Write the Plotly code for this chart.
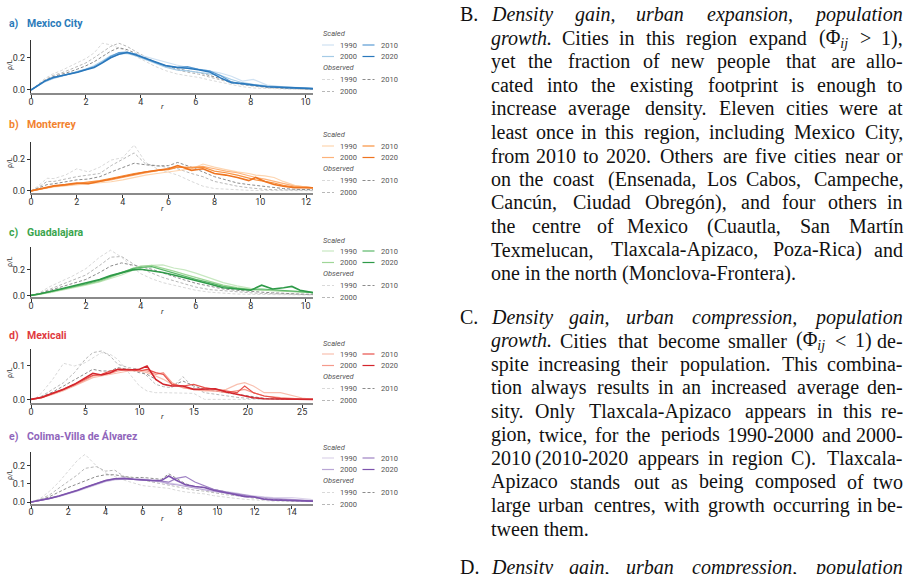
import plotly.graph_objects as go

W, H = 913, 574

SCALED_YEARS = ["1990", "2000", "2010", "2020"]
OBSERVED_YEARS = ["1990", "2000", "2010"]

# a) Mexico City
mexico_r = [0, 0.2, 0.5, 0.8, 1.1, 1.4, 1.7, 2.0, 2.3, 2.6, 2.9, 3.2, 3.5, 3.8, 4.1, 4.5, 4.9,
            5.3, 5.7, 6.1, 6.5, 6.9, 7.3, 7.7, 8.1, 8.6, 9.2, 9.8, 10.3]
mexico_s1990 = [0, 0.02, 0.05, 0.07, 0.083, 0.097, 0.112, 0.128, 0.145, 0.17, 0.2, 0.22, 0.228, 0.224, 0.21,
                0.19, 0.172, 0.155, 0.14, 0.13, 0.118, 0.105, 0.085, 0.055, 0.065, 0.03, 0.02, 0.015, 0.01]
mexico_s2000 = [0, 0.02, 0.052, 0.072, 0.085, 0.1, 0.115, 0.13, 0.15, 0.18, 0.212, 0.228, 0.226, 0.212, 0.195,
                0.168, 0.142, 0.125, 0.118, 0.11, 0.1, 0.09, 0.065, 0.045, 0.035, 0.025, 0.018, 0.012, 0.008]
mexico_s2010 = [0, 0.02, 0.055, 0.075, 0.087, 0.1, 0.112, 0.128, 0.143, 0.172, 0.208, 0.232, 0.235, 0.222, 0.2,
                0.172, 0.15, 0.14, 0.145, 0.128, 0.118, 0.09, 0.05, 0.036, 0.028, 0.02, 0.015, 0.012, 0.008]
mexico_s2020 = [0, 0.02, 0.055, 0.077, 0.088, 0.098, 0.11, 0.125, 0.14, 0.168, 0.2, 0.222, 0.232, 0.218, 0.2,
                0.176, 0.152, 0.14, 0.135, 0.125, 0.112, 0.075, 0.045, 0.04, 0.03, 0.02, 0.016, 0.012, 0.008]
mexico_o1990 = [0, 0.03, 0.07, 0.1, 0.12, 0.145, 0.17, 0.195, 0.23, 0.29, 0.28, 0.262, 0.24, 0.21, 0.185,
                0.148, 0.12, 0.1, 0.088, 0.078, 0.062, 0.048, 0.033, 0.02, 0.012, 0.008, 0.005, 0.003, 0.002]
mexico_o2000 = [0, 0.025, 0.062, 0.09, 0.105, 0.125, 0.145, 0.168, 0.2, 0.235, 0.27, 0.29, 0.27, 0.24, 0.21,
                0.175, 0.145, 0.125, 0.11, 0.098, 0.08, 0.062, 0.045, 0.032, 0.022, 0.014, 0.009, 0.006, 0.004]
mexico_o2010 = [0, 0.022, 0.058, 0.082, 0.095, 0.112, 0.13, 0.15, 0.175, 0.205, 0.24, 0.262, 0.25, 0.228, 0.205,
                0.175, 0.15, 0.132, 0.12, 0.108, 0.09, 0.068, 0.05, 0.036, 0.026, 0.018, 0.012, 0.008, 0.005]

# b) Monterrey
monterrey_r = [0, 0.3, 0.7, 1.0, 1.5, 2.0, 2.5, 3.0, 3.5, 4.0, 4.5, 5.0, 5.5, 6.0, 6.4, 7.0, 7.5, 8.0,
               8.5, 9.0, 9.5, 9.8, 10.2, 10.6, 11.0, 11.5, 12.0, 12.3]
monterrey_s1990 = [0, 0.006, 0.018, 0.025, 0.032, 0.04, 0.045, 0.05, 0.058, 0.07, 0.085, 0.1, 0.11, 0.12,
                   0.125, 0.14, 0.17, 0.15, 0.135, 0.12, 0.11, 0.1, 0.095, 0.085, 0.06, 0.035, 0.025, 0.02]
monterrey_s2000 = [0, 0.008, 0.02, 0.028, 0.035, 0.045, 0.052, 0.06, 0.07, 0.085, 0.1, 0.115, 0.128, 0.14,
                   0.15, 0.15, 0.155, 0.14, 0.125, 0.115, 0.095, 0.085, 0.075, 0.06, 0.045, 0.03, 0.025, 0.02]
monterrey_s2010 = [0, 0.01, 0.024, 0.03, 0.038, 0.048, 0.055, 0.065, 0.08, 0.095, 0.11, 0.12, 0.13, 0.135,
                   0.15, 0.145, 0.15, 0.125, 0.115, 0.1, 0.08, 0.07, 0.06, 0.05, 0.035, 0.025, 0.02, 0.018]
monterrey_s2020 = [0, 0.01, 0.025, 0.032, 0.04, 0.05, 0.045, 0.06, 0.075, 0.09, 0.105, 0.12, 0.13, 0.14,
                   0.16, 0.13, 0.14, 0.11, 0.1, 0.085, 0.065, 0.085, 0.06, 0.04, 0.03, 0.02, 0.022, 0.02]
monterrey_o1990 = [0, 0.03, 0.08, 0.078, 0.1, 0.14, 0.12, 0.15, 0.195, 0.21, 0.29, 0.18, 0.14, 0.12, 0.1,
                   0.06, 0.03, 0.015, 0.01, 0.006, 0.004, 0.003, 0.002, 0.002, 0.001, 0.001, 0.001, 0.001]
monterrey_o2000 = [0, 0.02, 0.06, 0.06, 0.075, 0.09, 0.1, 0.11, 0.16, 0.2, 0.24, 0.17, 0.16, 0.15, 0.14,
                   0.11, 0.09, 0.06, 0.045, 0.03, 0.02, 0.015, 0.01, 0.008, 0.006, 0.005, 0.004, 0.004]
monterrey_o2010 = [0, 0.015, 0.04, 0.045, 0.058, 0.07, 0.075, 0.09, 0.12, 0.15, 0.175, 0.165, 0.158, 0.16,
                   0.18, 0.15, 0.12, 0.09, 0.07, 0.05, 0.04, 0.035, 0.03, 0.02, 0.015, 0.01, 0.008, 0.008]

# c) Guadalajara
guadalajara_r = [0, 0.3, 0.7, 1.0, 1.5, 2.0, 2.5, 2.9, 3.3, 3.7, 4.0, 4.4, 4.8, 5.2, 5.6, 6.0, 6.5,
                 7.0, 7.5, 8.0, 8.4, 8.8, 9.2, 9.5, 9.8, 10.3]
guadalajara_s1990 = [0, 0.007, 0.022, 0.035, 0.055, 0.08, 0.105, 0.13, 0.16, 0.195, 0.215, 0.235, 0.24,
                     0.215, 0.2, 0.175, 0.14, 0.1, 0.075, 0.055, 0.045, 0.04, 0.035, 0.03, 0.028, 0.025]
guadalajara_s2000 = [0, 0.008, 0.025, 0.038, 0.06, 0.085, 0.11, 0.14, 0.175, 0.21, 0.23, 0.235, 0.215,
                     0.19, 0.165, 0.14, 0.11, 0.08, 0.06, 0.045, 0.04, 0.035, 0.03, 0.028, 0.025, 0.02]
guadalajara_s2010 = [0, 0.01, 0.028, 0.042, 0.066, 0.09, 0.12, 0.15, 0.18, 0.21, 0.22, 0.225, 0.2,
                     0.175, 0.15, 0.125, 0.1, 0.07, 0.055, 0.045, 0.05, 0.045, 0.04, 0.035, 0.03, 0.02]
guadalajara_s2020 = [0, 0.01, 0.03, 0.045, 0.07, 0.095, 0.125, 0.155, 0.18, 0.2, 0.205, 0.195, 0.18,
                     0.16, 0.14, 0.12, 0.09, 0.06, 0.05, 0.04, 0.08, 0.05, 0.06, 0.07, 0.04, 0.02]
guadalajara_o1990 = [0, 0.02, 0.07, 0.1, 0.15, 0.21, 0.3, 0.355, 0.3, 0.22, 0.17, 0.13, 0.1, 0.08,
                     0.06, 0.04, 0.025, 0.015, 0.01, 0.008, 0.006, 0.005, 0.004, 0.003, 0.003, 0.002]
guadalajara_o2000 = [0, 0.015, 0.05, 0.075, 0.115, 0.16, 0.235, 0.3, 0.305, 0.25, 0.21, 0.175, 0.14,
                     0.115, 0.09, 0.065, 0.045, 0.035, 0.025, 0.02, 0.015, 0.012, 0.01, 0.008, 0.007, 0.005]
guadalajara_o2010 = [0, 0.012, 0.04, 0.06, 0.09, 0.125, 0.18, 0.23, 0.255, 0.24, 0.225, 0.205, 0.175,
                     0.15, 0.12, 0.095, 0.07, 0.05, 0.04, 0.03, 0.025, 0.02, 0.015, 0.012, 0.01, 0.008]

# d) Mexicali
mexicali_r = [0, 0.5, 1, 2, 3, 4, 5, 5.7, 6.5, 7.3, 8, 9, 10, 10.7, 11.5, 12.2, 13, 14, 15, 16, 17,
              18, 19, 19.7, 20.5, 21.5, 23, 24, 25, 26]
mexicali_s1990 = [0, 0.002, 0.005, 0.015, 0.026, 0.04, 0.055, 0.065, 0.07, 0.075, 0.08, 0.085, 0.085, 0.08,
                  0.07, 0.06, 0.045, 0.035, 0.03, 0.025, 0.025, 0.03, 0.045, 0.05, 0.04, 0.02, 0.02, 0.012, 0.004, 0]
mexicali_s2000 = [0, 0.002, 0.005, 0.016, 0.028, 0.042, 0.058, 0.07, 0.073, 0.078, 0.085, 0.09, 0.088, 0.085,
                  0.075, 0.08, 0.05, 0.035, 0.03, 0.028, 0.025, 0.02, 0.025, 0.03, 0.02, 0.01, 0.005, 0.002, 0.001, 0]
mexicali_s2010 = [0, 0.002, 0.006, 0.018, 0.03, 0.045, 0.062, 0.072, 0.075, 0.085, 0.09, 0.09, 0.085, 0.09,
                  0.08, 0.075, 0.045, 0.04, 0.045, 0.035, 0.03, 0.025, 0.02, 0.04, 0.02, 0.01, 0.003, 0.001, 0, 0]
mexicali_s2020 = [0, 0.002, 0.006, 0.018, 0.03, 0.045, 0.065, 0.078, 0.073, 0.08, 0.09, 0.088, 0.09, 0.1,
                  0.06, 0.045, 0.04, 0.04, 0.03, 0.03, 0.032, 0.022, 0.015, 0.01, 0.005, 0.002, 0.001, 0, 0, 0]
mexicali_o1990 = [0, 0.005, 0.02, 0.06, 0.108, 0.1, 0.11, 0.125, 0.14, 0.135, 0.12, 0.08, 0.04, 0.025,
                  0.02, 0.02, 0.02, 0.02, 0.018, 0, 0, 0, 0, 0, 0, 0, 0, 0, 0, 0]
mexicali_o2000 = [0, 0.003, 0.01, 0.03, 0.05, 0.08, 0.12, 0.14, 0.145, 0.13, 0.105, 0.095, 0.09, 0.07,
                  0.045, 0.038, 0.035, 0.068, 0.035, 0.02, 0.015, 0.01, 0.006, 0.004, 0.002, 0.001, 0, 0, 0, 0]
mexicali_o2010 = [0, 0.002, 0.008, 0.022, 0.04, 0.058, 0.078, 0.09, 0.085, 0.085, 0.095, 0.09, 0.08, 0.075,
                  0.06, 0.045, 0.04, 0.055, 0.04, 0.03, 0.025, 0.02, 0.015, 0.01, 0.006, 0.003, 0.001, 0, 0, 0]

# e) Colima-Villa de Álvarez
colima_r = [0, 0.5, 1, 1.5, 2, 2.5, 2.9, 3.5, 4, 4.5, 5, 5.5, 6, 6.5, 7, 7.4, 7.8, 8.3, 8.8, 9.3, 9.8,
            10.5, 11, 11.5, 12, 12.5, 13, 14, 15, 15.2]
colima_s1990 = [0, 0.007, 0.018, 0.03, 0.044, 0.06, 0.074, 0.094, 0.112, 0.122, 0.128, 0.13, 0.128, 0.122,
                0.115, 0.105, 0.1, 0.09, 0.08, 0.07, 0.065, 0.058, 0.05, 0.04, 0.032, 0.028, 0.025, 0.025, 0.015, 0.01]
colima_s2000 = [0, 0.008, 0.02, 0.032, 0.046, 0.062, 0.077, 0.097, 0.115, 0.125, 0.128, 0.125, 0.122, 0.118,
                0.11, 0.1, 0.095, 0.085, 0.075, 0.065, 0.058, 0.05, 0.045, 0.04, 0.03, 0.025, 0.02, 0.015, 0.008, 0.006]
colima_s2010 = [0, 0.008, 0.02, 0.033, 0.048, 0.065, 0.08, 0.1, 0.118, 0.128, 0.13, 0.125, 0.12, 0.118,
                0.115, 0.11, 0.13, 0.14, 0.11, 0.09, 0.07, 0.055, 0.045, 0.035, 0.025, 0.018, 0.012, 0.008, 0.005, 0.005]
colima_s2020 = [0, 0.008, 0.02, 0.033, 0.048, 0.065, 0.08, 0.1, 0.118, 0.128, 0.13, 0.125, 0.12, 0.118,
                0.118, 0.143, 0.12, 0.095, 0.085, 0.08, 0.065, 0.05, 0.04, 0.03, 0.028, 0.015, 0.012, 0.008, 0.005, 0.005]
colima_o1990 = [0, 0.02, 0.06, 0.11, 0.17, 0.23, 0.262, 0.2, 0.16, 0.14, 0.12, 0.105, 0.09, 0.085, 0.08,
                0.075, 0.065, 0.055, 0.05, 0.045, 0.035, 0.025, 0.02, 0.015, 0.01, 0.008, 0.005, 0.003, 0.002, 0.002]
colima_o2000 = [0, 0.015, 0.04, 0.075, 0.11, 0.15, 0.185, 0.195, 0.17, 0.175, 0.14, 0.13, 0.12, 0.11, 0.1,
                0.09, 0.085, 0.075, 0.065, 0.06, 0.05, 0.04, 0.035, 0.03, 0.02, 0.015, 0.01, 0.005, 0.003, 0.003]
colima_o2010 = [0, 0.01, 0.03, 0.055, 0.08, 0.1, 0.115, 0.14, 0.15, 0.15, 0.14, 0.135, 0.135, 0.13, 0.125,
                0.155, 0.13, 0.1, 0.085, 0.08, 0.07, 0.055, 0.045, 0.035, 0.03, 0.02, 0.015, 0.01, 0.005, 0.005]

# text on the right, one list per typeset line: (words, italic)
para_b = [
    [("Density gain, urban expansion, population", True)],
    [("growth.", True), ("Cities in this region expand (Φ_ij > 1),", False)],
    [("yet the fraction of new people that are allo-", False)],
    [("cated into the existing footprint is enough to", False)],
    [("increase average density. Eleven cities were at", False)],
    [("least once in this region, including Mexico City,", False)],
    [("from 2010 to 2020. Others are five cities near or", False)],
    [("on the coast (Ensenada, Los Cabos, Campeche,", False)],
    [("Cancún, Ciudad Obregón), and four others in", False)],
    [("the centre of Mexico (Cuautla, San Martín", False)],
    [("Texmelucan, Tlaxcala-Apizaco, Poza-Rica) and", False)],
    [("one in the north (Monclova-Frontera).", False)],
]
para_c = [
    [("Density gain, urban compression, population", True)],
    [("growth.", True), ("Cities that become smaller (Φ_ij < 1) de-", False)],
    [("spite increasing their population. This combina-", False)],
    [("tion always results in an increased average den-", False)],
    [("sity. Only Tlaxcala-Apizaco appears in this re-", False)],
    [("gion, twice, for the periods 1990-2000 and 2000-", False)],
    [("2010 (2010-2020 appears in region C). Tlaxcala-", False)],
    [("Apizaco stands out as being composed of two", False)],
    [("large urban centres, with growth occurring in be-", False)],
    [("tween them.", False)],
]
para_d = [
    [("Density gain, urban compression, population", True)],
]

GREYS = ["#d9d9d9", "#b8b8b8", "#8c8c8c"]
BLUES = ["#cfe1f2", "#a5cbe6", "#5a9bd3", "#2a78bc"]
ORANGES = ["#fdd5b0", "#fdb27a", "#f8913f", "#ee7420"]
GREENS = ["#c8e8c1", "#9fd698", "#5db86a", "#2e9a48"]
REDS = ["#f9c0b0", "#f59a8c", "#e8514a", "#d4252c"]
PURPLES = ["#dcd4ea", "#b9a6d5", "#9f82c4", "#7d53ad"]

panels = [
    dict(tag="a)", name="Mexico City", color="#2b7bba", pal=BLUES, r=mexico_r,
         scaled=[mexico_s1990, mexico_s2000, mexico_s2010, mexico_s2020],
         observed=[mexico_o1990, mexico_o2000, mexico_o2010],
         top=40, bottom=92.7, yr=[-0.017, 0.31], xmax=10.27, dt=2, yt=[0, 0.2],
         ty=23, ly=34, ry=106.5, rho=65),
    dict(tag="b)", name="Monterrey", color="#f2822e", pal=ORANGES, r=monterrey_r,
         scaled=[monterrey_s1990, monterrey_s2000, monterrey_s2010, monterrey_s2020],
         observed=[monterrey_o1990, monterrey_o2000, monterrey_o2010],
         top=142, bottom=193.3, yr=[-0.015, 0.309], xmax=12.3, dt=2, yt=[0, 0.2],
         ty=124, ly=135, ry=208, rho=163),
    dict(tag="c)", name="Guadalajara", color="#3aa54d", pal=GREENS, r=guadalajara_r,
         scaled=[guadalajara_s1990, guadalajara_s2000, guadalajara_s2010, guadalajara_s2020],
         observed=[guadalajara_o1990, guadalajara_o2000, guadalajara_o2010],
         top=247, bottom=297, yr=[-0.013, 0.38], xmax=10.27, dt=2, yt=[0, 0.2],
         ty=232.7, ly=240, ry=311.5, rho=262),
    dict(tag="d)", name="Mexicali", color="#e03a3e", pal=REDS, r=mexicali_r,
         scaled=[mexicali_s1990, mexicali_s2000, mexicali_s2010, mexicali_s2020],
         observed=[mexicali_o1990, mexicali_o2000, mexicali_o2010],
         top=349.3, bottom=402.7, yr=[-0.01, 0.15], xmax=26.0, dt=5, yt=[0, 0.1],
         ty=335, ly=343, ry=416.5, rho=373),
    dict(tag="e)", name="Colima-Villa de Álvarez", color="#9065bb", pal=PURPLES, r=colima_r,
         scaled=[colima_s1990, colima_s2000, colima_s2010, colima_s2020],
         observed=[colima_o1990, colima_o2000, colima_o2010],
         top=452, bottom=503.5, yr=[-0.008, 0.275], xmax=15.14, dt=2, yt=[0, 0.1, 0.2],
         ty=436, ly=447, ry=518, rho=475),
]


def px(x):
    return x / W


def py(y):
    return 1 - y / H


fig = go.Figure()
annotations = []
shapes = []
axes = {}


def note(text, x, y, size, color="#333", xanchor="left", family="Roboto", **kw):
    annotations.append(dict(text=text, x=px(x), y=py(y), xref="paper", yref="paper",
                            xanchor=xanchor, yanchor="middle", showarrow=False,
                            font=dict(family=family, size=size, color=color), **kw))


for i, p in enumerate(panels):
    sfx = "" if i == 0 else str(i + 1)
    for year, ys, col in zip(OBSERVED_YEARS, p["observed"], GREYS):
        fig.add_trace(go.Scatter(x=p["r"], y=ys, mode="lines", name="Observed " + year,
                                 line=dict(color=col, width=1, dash="3px,2px"),
                                 xaxis="x" + sfx, yaxis="y" + sfx))
    for k, (year, ys, col) in enumerate(zip(SCALED_YEARS, p["scaled"], p["pal"])):
        fig.add_trace(go.Scatter(x=p["r"], y=ys, mode="lines", name="Scaled " + year,
                                 line=dict(color=col, width=1.6 if k == 3 else 1.2),
                                 xaxis="x" + sfx, yaxis="y" + sfx))

    axes["xaxis" + sfx] = dict(domain=[px(31), px(313)], anchor="y" + sfx, range=[0, p["xmax"]],
                               tickmode="linear", tick0=0, dtick=p["dt"], showline=True,
                               linecolor="#8a8a8a", linewidth=2, ticks="outside", ticklen=3,
                               tickcolor="#333", tickfont=dict(size=9, color="#333"),
                               ticklabelstandoff=-4,
                               showgrid=False, zeroline=False, automargin=False)
    axes["yaxis" + sfx] = dict(domain=[py(p["bottom"]), py(p["top"])], anchor="x" + sfx,
                               range=p["yr"], tickvals=p["yt"],
                               ticktext=["%.1f" % v for v in p["yt"]], showline=True,
                               linecolor="#333", linewidth=1, ticks="outside", ticklen=3,
                               tickcolor="#333", tickfont=dict(size=9, color="#333"),
                               showgrid=False, zeroline=False, automargin=False)

    # panel title and axis labels
    note("<b>%s</b>" % p["tag"], 7, p["ty"], 10.5, p["color"])
    note("<b>%s</b>" % p["name"], 24.5, p["ty"], 10.5, p["color"])
    note("<i>r</i>", 162, p["ry"], 8, "#333", xanchor="center")
    note("ρ/L", 10, p["rho"], 7, "#333", xanchor="center", textangle=-90)

    # hand-drawn legend
    y0 = p["ly"]
    note("<i>Scaled</i>", 321, y0, 7.5, "#555")
    note("<i>Observed</i>", 321, y0 + 33.5, 7.5, "#555")
    slots = [(0, y0 + 11), (0, y0 + 22.5), (1, y0 + 11), (1, y0 + 22.5)]
    entries = [(y, c, None, s) for y, c, s in zip(SCALED_YEARS, p["pal"], slots)]
    oslots = [(0, y0 + 45.5), (0, y0 + 57.5), (1, y0 + 45.5)]
    entries += [(y, c, "3px,2px", s) for y, c, s in zip(OBSERVED_YEARS, GREYS, oslots)]
    for year, col, dash, (colno, yy) in entries:
        x0 = 322 + 40.5 * colno
        line = dict(color=col, width=1.2)
        if dash:
            line["dash"] = dash
        shapes.append(dict(type="line", xref="paper", yref="paper", x0=px(x0), x1=px(x0 + 12),
                           y0=py(yy), y1=py(yy), line=line))
        note(year, x0 + 16, yy, 7.5, "#555")

# ---- typeset paragraph on the right ----
CM_ROMAN = {}
for chars, w in [(" ", 333), (".,:;", 278), ("ilí", 278), ("fj", 306), ("-", 333), ("I", 361),
                 ("()", 389), ("t", 389), ("r", 392), ("s", 394), ("cez", 444),
                 ("aog0123456789ó", 500), ("J", 514), ("kvxyq", 528), ("bdhnpuú", 556), ("S", 556),
                 ("Z", 611), ("L", 625), ("F", 653), ("EP", 681), ("B", 708), ("wCTΦ", 722),
                 ("R", 736), ("AHNUVXY", 750), ("D", 764), ("KOQ<>", 778), ("G", 785), ("m", 833),
                 ("M", 917), ("W", 1028)]:
    for ch in chars:
        CM_ROMAN[ch] = w
CM_ITALIC = {}
for chars, w in [(".,", 307), ("l", 256), ("fij", 307), ("t", 332), ("sz", 409), ("r", 422),
                 ("bcegkqv", 460), ("x", 464), ("y", 486), ("adop", 511), ("u", 537), ("n", 562),
                 ("w", 664), ("D", 756), ("m", 818)]:
    for ch in chars:
        CM_ITALIC[ch] = w

EM = 19.8          # size of the typeset font on screen
TX0, TX1 = 489, 905
SERIF = "Liberation Serif"
FS = 20


def word_width(word, italic):
    table = CM_ITALIC if italic else CM_ROMAN
    extra = 0
    if "_ij" in word:
        word = word.replace("_ij", "")
        extra = 500
    return (sum(table.get(ch, 500) for ch in word) + extra) / 1000 * EM


def markup(word, italic):
    w = word.replace("<", "&lt;").replace(">", "&gt;")
    w = w.replace("Φ_ij", "Φ<sub><i>ij</i></sub>")
    return "<i>%s</i>" % w if italic else w


def set_line(segments, y, justify):
    if not justify:
        # last line of a paragraph: natural spacing, one piece of text
        text = " ".join(markup(t, it) for t, it in segments)
        note(text, TX0, y, FS, "#111", family=SERIF)
        return
    words = [(w, it) for text, it in segments for w in text.split()]
    widths = [word_width(w, it) for w, it in words]
    n = len(words)
    gap = (TX1 - TX0 - sum(widths)) / (n - 1)
    x = TX0
    for k, ((w, it), wd) in enumerate(zip(words, widths)):
        if k == 0:
            xa, xp = "left", x
        elif k == n - 1:
            xa, xp = "right", TX1
        else:
            xa, xp = "center", x + wd / 2
        note(markup(w, it), xp, y, FS, "#111", xanchor=xa, family=SERIF)
        x += wd + gap


def set_paragraph(label, lines, y0, step):
    note(label, 458, y0, FS, "#111", family=SERIF)
    for k, segs in enumerate(lines):
        set_line(segs, y0 + k * step, justify=(k < len(lines) - 1 or len(lines) == 1))


set_paragraph("B.", para_b, 14.5, 23.5)
set_paragraph("C.", para_c, 317, 23.5)
set_paragraph("D.", para_d, 567, 23.5)

fig.update_layout(
    width=W, height=H, margin=dict(l=0, r=0, t=0, b=0),
    paper_bgcolor="white", plot_bgcolor="white", showlegend=False,
    template="none", font=dict(family="Roboto", color="#333"),
    annotations=annotations, shapes=shapes, **axes,
)

# the page itself adds a default 8px body margin; drop it so the figure sits at the corner
fig.write_html("out.html", config={"displayModeBar": False},
               post_script="document.body.style.margin='0';")
